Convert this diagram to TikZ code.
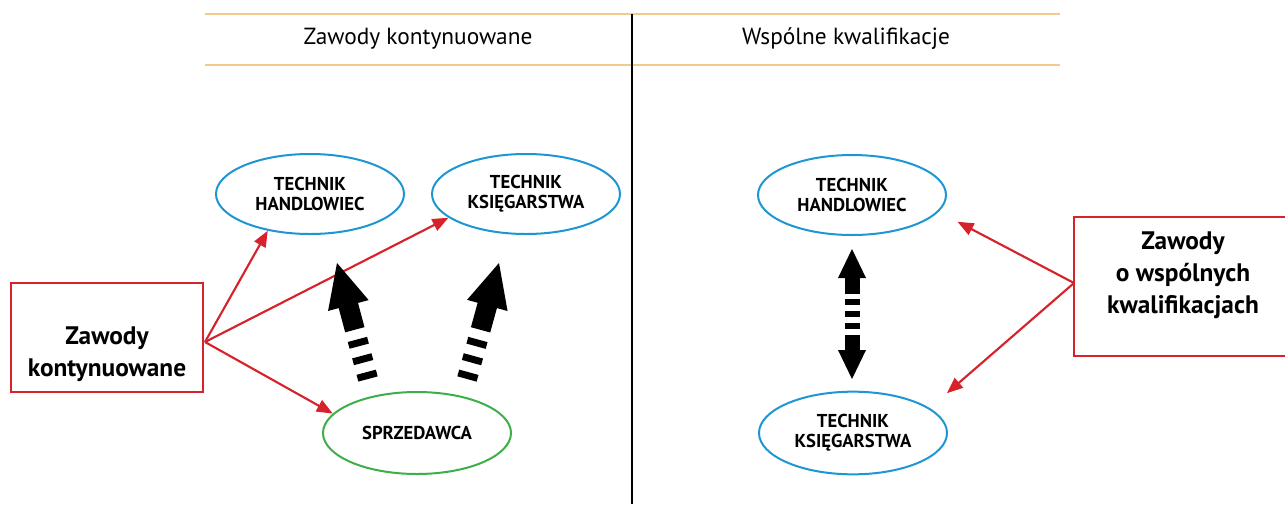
\documentclass[tikz,border=0pt]{standalone}
\usepackage{fontspec}
\setmainfont{PT Sans}
\usetikzlibrary{shapes.geometric,arrows.meta,calc}
\definecolor{ebl}{HTML}{1E96D3}
\definecolor{egr}{HTML}{3DAE49}
\definecolor{ard}{HTML}{D6222B}
\definecolor{hor}{HTML}{F2C98F}
\begin{document}
\begin{tikzpicture}[x=0.75pt,y=-0.75pt,
  ell/.style={ellipse, draw=#1, line width=1.5pt, minimum width=141pt, minimum height=60pt,
    inner sep=0pt, align=center, font=\fontsize{14}{15}\selectfont\bfseries},
  redbox/.style={draw=ard, line width=2pt, rectangle, inner sep=0pt},
  boxtxt/.style={align=center, inner sep=0pt, font=\fontsize{19}{24}\selectfont\bfseries},
  hdr/.style={font=\fontsize{17.5}{20}\selectfont},
  hline/.style={draw=hor, line width=1.5pt},
  vline/.style={draw=black, line width=0.9pt},
  redarr/.style={draw=ard, line width=1.6pt, -{Triangle[length=12pt,width=9.5pt]}},
  shaftbig/.style={draw=black, line width=15pt, line cap=butt,
    dash pattern=on 5.25pt off 7.5pt on 5.25pt off 7.5pt on 5.25pt off 7.5pt on 80pt},
  shaftdbl/.style={draw=black, line width=11.25pt, line cap=butt,
    dash pattern=on 12pt off 3.75pt on 4.5pt off 4.5pt on 4.5pt off 4.5pt on 4.5pt off 4.5pt on 40pt}
]
\useasboundingbox (0,0) rectangle (1285,504);
\clip (0,0) rectangle (1285,504);

% header lines
\coordinate (h1l) at (205,14);  \coordinate (h1r) at (1060,14);
\coordinate (h2l) at (205,65);  \coordinate (h2r) at (1060,65);
\coordinate (vt) at (632,14);   \coordinate (vb) at (632,504);
\draw[hline] (h1l) -- (h1r);
\draw[hline] (h2l) -- (h2r);
\draw[vline] (vt) -- (vb);
\node[hdr] (hdA) at (418,39) {Zawody kontynuowane};
\node[hdr] (hdB) at (846,39) {Wspólne kwalifikacje};

% ellipses
\node[ell=ebl] (th1) at (310,194) {TECHNIK\\HANDLOWIEC};
\node[ell=ebl] (tk1) at (526,194) {TECHNIK\\KSIĘGARSTWA};
\node[ell=egr, minimum height=61.5pt] (sp) at (417,433) {SPRZEDAWCA};
\node[ell=ebl] (th2) at (852,195) {TECHNIK\\HANDLOWIEC};
\node[ell=ebl, minimum height=62pt] (tk2) at (853,433) {TECHNIK\\KSIĘGARSTWA};

% red boxes
\node[redbox, minimum width=144pt, minimum height=81.75pt] (kb) at (107,337.5) {};
\node[boxtxt] (kbt) at (107,354) {Zawody\\kontynuowane};
\node[redbox, minimum width=163.5pt, minimum height=104.25pt] (wb) at (1183,286.5) {};
\node[boxtxt] (wbt) at (1183,275) {Zawody\\o wspólnych\\kwalifikacjach};

% red arrows
\coordinate (ks) at (205,342);
\draw[redarr] (ks) -- (th1.221);
\draw[redarr] (ks) -- (tk1.197);
\draw[redarr] (ks) -- (sp.167);
\coordinate (ws) at (1074,283);
\draw[redarr, shorten >=16pt] (ws) -- (th2.349);
\draw[redarr, shorten >=17pt] (ws) -- (tk2.18);

% thick black arrows (left)
\coordinate (a1s) at (368,379); \coordinate (a1e) at (337,263);
\path ($(a1e)!33pt!(a1s)$) coordinate (a1b);
\draw[shaftbig] (a1s) -- ($(a1e)!31pt!(a1s)$);
\fill (a1e) -- ($(a1b)!15.75pt!90:(a1e)$) -- ($(a1b)!15.75pt!-90:(a1e)$) -- cycle;

\coordinate (a2s) at (467,379); \coordinate (a2e) at (499,263);
\path ($(a2e)!33pt!(a2s)$) coordinate (a2b);
\draw[shaftbig] (a2s) -- ($(a2e)!31pt!(a2s)$);
\fill (a2e) -- ($(a2b)!15.75pt!90:(a2e)$) -- ($(a2b)!15.75pt!-90:(a2e)$) -- cycle;

% double arrow (right)
\coordinate (d1) at (852,249); \coordinate (d2) at (852,379);
\path ($(d1)!21.75pt!(d2)$) coordinate (d1b);
\path ($(d2)!21.75pt!(d1)$) coordinate (d2b);
\draw[shaftdbl] (d1b) -- ($(d2b)!1pt!(d2)$);
\fill (d1) -- ($(d1b)!10.5pt!90:(d1)$) -- ($(d1b)!10.5pt!-90:(d1)$) -- cycle;
\fill (d2) -- ($(d2b)!10.5pt!90:(d2)$) -- ($(d2b)!10.5pt!-90:(d2)$) -- cycle;
\end{tikzpicture}
\end{document}
